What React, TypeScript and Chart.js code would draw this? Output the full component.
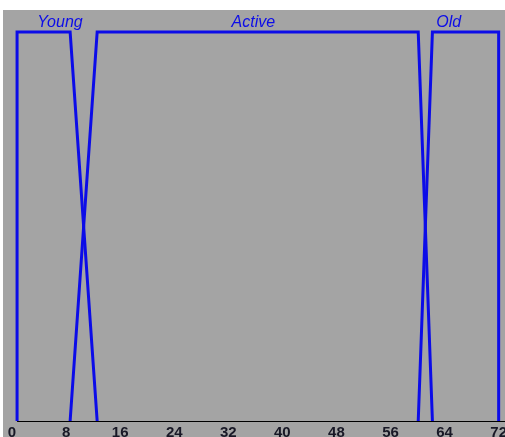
import React, { useEffect, useRef } from "react";
import { Chart, registerables } from "chart.js";

Chart.register(...registerables);

const setNames = ["Young", "Active", "Old"];
const youngX = [0.75, 0.75, 8.6, 12.6];
const youngY = [0, 1, 1, 0];
const activeX = [8.6, 12.6, 60.1, 62.2];
const activeY = [0, 1, 1, 0];
const oldX = [60.1, 62.2, 72, 72];
const oldY = [0, 1, 1, 0];
const labelX = [7.1, 35.7, 64.6];
const xTicks = [0, 8, 16, 24, 32, 40, 48, 56, 64, 72];

const LINE = "rgb(12,12,232)";
const GRAY = "#a4a4a4";

const toPts = (xs: number[], ys: number[]) => xs.map((x, i) => ({ x, y: ys[i] }));

export default function App() {
  const ref = useRef<HTMLCanvasElement | null>(null);
  useEffect(() => {
    if (!ref.current) return;
    const bg = {
      id: "bg",
      beforeDraw(chart: any) {
        const ctx = chart.ctx;
        ctx.save();
        ctx.fillStyle = GRAY;
        ctx.fillRect(3, 10, chart.width - 3, chart.height - 10);
        ctx.restore();
      },
      afterDraw(chart: any) {
        const ctx = chart.ctx;
        const xs = chart.scales.x;
        const ys = chart.scales.y;
        ctx.save();
        ctx.strokeStyle = "#000";
        ctx.lineWidth = 1.2;
        const y0 = Math.round(ys.getPixelForValue(0)) + 0.5;
        ctx.beginPath();
        ctx.moveTo(xs.getPixelForValue(youngX[0]), y0);
        ctx.lineTo(chart.width, y0);
        ctx.stroke();
        ctx.fillStyle = LINE;
        ctx.font = "italic 16px 'Liberation Sans', Arial, sans-serif";
        ctx.textAlign = "center";
        ctx.textBaseline = "alphabetic";
        setNames.forEach((n, i) => {
          ctx.fillText(n, xs.getPixelForValue(labelX[i]), ys.getPixelForValue(1) - 5);
        });
        ctx.restore();
      },
    };
    const mk = (label: string, xs: number[], ys: number[]) => ({
      label,
      data: toPts(xs, ys),
      showLine: true,
      borderColor: LINE,
      borderWidth: 3,
      pointRadius: 0,
      fill: false,
      tension: 0,
      clip: false as any,
    });
    const chart = new Chart(ref.current, {
      type: "scatter",
      data: {
        datasets: [
          mk(setNames[0], youngX, youngY),
          mk(setNames[1], activeX, activeY),
          mk(setNames[2], oldX, oldY),
        ],
      },
      options: {
        animation: false,
        responsive: false,
        maintainAspectRatio: false,
        layout: { padding: { left: 12, right: 0, top: 12.5, bottom: 0 } },
        plugins: { legend: { display: false }, tooltip: { enabled: false } },
        scales: {
          x: {
            type: "linear",
            min: 0,
            max: 72,
            grid: { display: false, drawTicks: false },
            border: { display: false },
            afterBuildTicks: (s: any) => {
              s.ticks = xTicks.map((v) => ({ value: v }));
            },
            ticks: {
              padding: 3,
              color: "#181826",
              font: { family: "'Liberation Sans', Arial, sans-serif", size: 15, weight: "bold" },
              maxRotation: 0,
              autoSkip: false,
            },
          },
          y: {
            display: false,
            min: 0,
            max: 1.05,
          },
        },
      },
      plugins: [bg],
    });
    return () => chart.destroy();
  }, []);
  return (
    <div
      style={{
        position: "fixed",
        left: 0,
        top: 0,
        width: 505,
        height: 437,
        overflow: "hidden",
        background: "#fff",
      }}
    >
      <canvas ref={ref} width={510} height={445} style={{ display: "block", width: 510, height: 445 }} />
    </div>
  );
}
